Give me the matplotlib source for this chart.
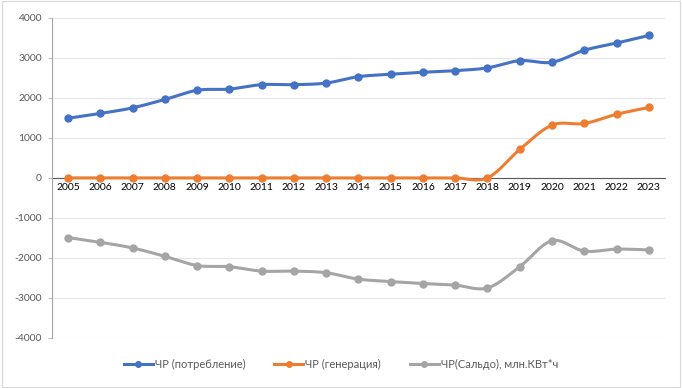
import numpy as np
import matplotlib
matplotlib.use("Agg")
import matplotlib.pyplot as plt
from matplotlib.patches import Rectangle

years = ["2005", "2006", "2007", "2008", "2009", "2010", "2011", "2012", "2013", "2014",
         "2015", "2016", "2017", "2018", "2019", "2020", "2021", "2022", "2023"]
consumption = [1490, 1610, 1750, 1960, 2190, 2220, 2330, 2330, 2370, 2530,
               2590, 2640, 2680, 2750, 2930, 2890, 3190, 3370, 3560]
generation = [0, 0, 0, 0, 0, 0, 0, 0, 0, 0,
              0, 0, 0, 0, 710, 1320, 1360, 1590, 1760]
saldo = [-1490, -1610, -1750, -1960, -2190, -2220, -2330, -2330, -2370, -2530,
         -2590, -2640, -2680, -2750, -2220, -1570, -1830, -1780, -1800]
labels = ["ЧР (потребление)", "ЧР (генерация)", "ЧР(Сальдо), млн.КВт*ч"]
colors = ["#4472C4", "#ED7D31", "#A5A5A5"]
yticks = [-4000, -3000, -2000, -1000, 0, 1000, 2000, 3000, 4000]

plt.rcParams['font.family'] = ['Lato', 'DejaVu Sans']


def smooth(x, y, n=20):
    x = np.asarray(x, float)
    y = np.asarray(y, float)
    px = np.concatenate([[x[0]], x, [x[-1]]])
    py = np.concatenate([[y[0]], y, [y[-1]]])
    xs, ys = [], []
    for i in range(1, len(px) - 2):
        p0x, p1x, p2x, p3x = px[i - 1], px[i], px[i + 1], px[i + 2]
        p0y, p1y, p2y, p3y = py[i - 1], py[i], py[i + 1], py[i + 2]
        c1x = p1x + (p2x - p0x) / 6
        c1y = p1y + (p2y - p0y) / 6
        c2x = p2x - (p3x - p1x) / 6
        c2y = p2y - (p3y - p1y) / 6
        t = np.linspace(0, 1, n)
        b0 = (1 - t) ** 3
        b1 = 3 * (1 - t) ** 2 * t
        b2 = 3 * (1 - t) * t ** 2
        b3 = t ** 3
        xs.append(b0 * p1x + b1 * c1x + b2 * c2x + b3 * p2x)
        ys.append(b0 * p1y + b1 * c1y + b2 * c2y + b3 * p2y)
    return np.concatenate(xs), np.concatenate(ys)


fig = plt.figure(figsize=(6.82, 3.88), dpi=100)
fig.patches.append(Rectangle((0.003, 0.003), 0.994, 0.994, transform=fig.transFigure,
                             fill=False, edgecolor="#D9D9D9", linewidth=0.8))
ax = fig.add_axes([0.076, 0.129, 0.899, 0.825])

x = np.arange(len(years))
for vals, lab, col in zip([consumption, generation, saldo], labels, colors):
    sx, sy = smooth(x, vals)
    ax.plot(sx, sy, color=col, lw=2.2, solid_capstyle='round', zorder=3)
    ax.plot(x, vals, 'o', color=col, ms=5, zorder=4)
    ax.plot([], [], '-o', color=col, lw=2.2, ms=4, label=lab)

ax.set_xlim(-0.5, len(years) - 0.5)
ax.set_ylim(-4000, 4000)
ax.set_yticks(yticks)
ax.set_yticklabels([str(v) for v in yticks], color="#595959")
ax.set_xticks(x)
ax.set_xticklabels(years, color="#595959")
ax.tick_params(axis='x', length=0, pad=4, labelsize=7.5)
ax.tick_params(axis='y', length=3, color="#BFBFBF", pad=4, labelsize=7.5)
ax.grid(axis='y', color="#E6E6E6", lw=0.8, zorder=0)
ax.set_axisbelow(True)

for s in ['top', 'right']:
    ax.spines[s].set_visible(False)
ax.spines['bottom'].set_position(('data', 0))
ax.spines['bottom'].set_color("#595959")
ax.spines['bottom'].set_linewidth(0.8)
ax.spines['bottom'].set_zorder(2)
ax.spines['left'].set_color("#A6A6A6")
ax.spines['left'].set_linewidth(0.8)

fig.legend(loc='center', bbox_to_anchor=(0.5, 0.06), ncol=3, frameon=False,
           fontsize=8, labelcolor="#595959", handlelength=2.6, handletextpad=0.2,
           columnspacing=2.6)

fig.savefig("out.png", dpi=100)
